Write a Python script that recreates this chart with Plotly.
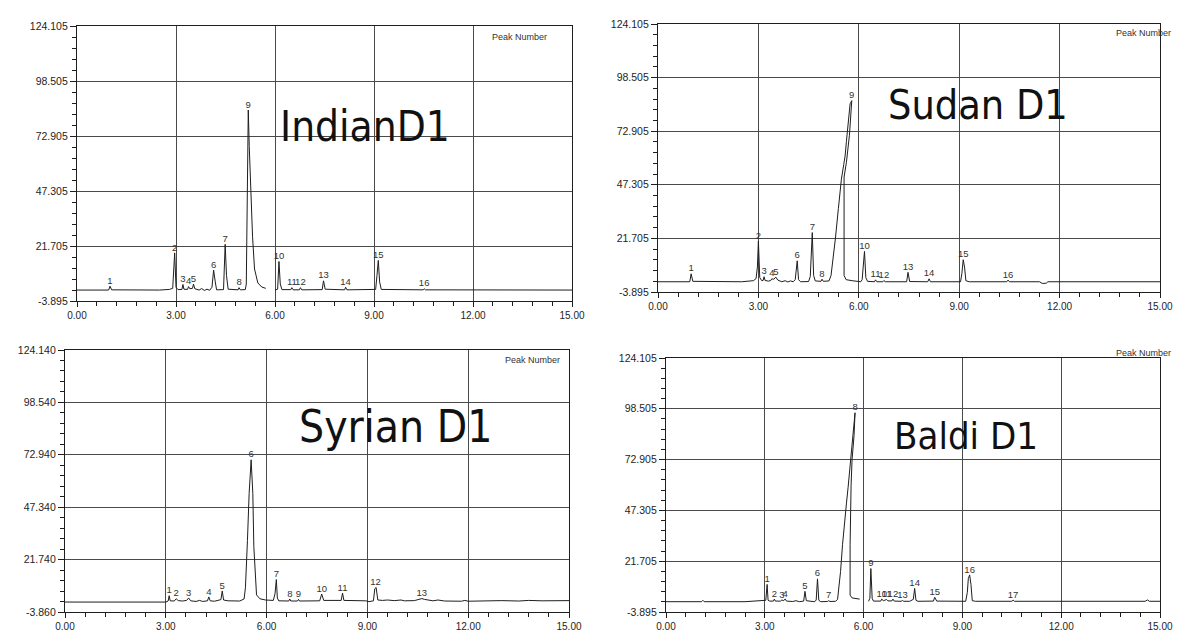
import plotly.graph_objects as go

# ---------------- data ----------------
x_ticks = [0, 3, 6, 9, 12, 15]
x_labels = ["0.00", "3.00", "6.00", "9.00", "12.00", "15.00"]

y_ticks_a = [-3.895, 21.705, 47.305, 72.905, 98.505, 124.105]
y_labels_a = ["-3.895", "21.705", "47.305", "72.905", "98.505", "124.105"]
y_ticks_b = [-3.860, 21.740, 47.340, 72.940, 98.540, 124.140]
y_labels_b = ["-3.860", "21.740", "47.340", "72.940", "98.540", "124.140"]

sample_names = ["IndianD1", "Sudan D1", "Syrian D1", "Baldi D1"]

# IndianD1 trace (retention time, min ; signal)
indian_time = [0.00, 0.96, 1.00, 1.05, 2.50, 2.80, 2.90, 2.96, 3.00, 3.06, 3.18, 3.21, 3.24, 3.35, 3.38,
               3.42, 3.50, 3.53, 3.57, 3.70, 3.78, 3.86, 3.94, 4.02, 4.09, 4.14, 4.19, 4.23, 4.44, 4.49,
               4.53, 4.58, 4.88, 4.91, 4.95, 5.10, 5.13, 5.15, 5.16, 5.18, 5.19, 5.22, 5.27, 5.32, 5.38,
               5.48, 5.60, 5.72, None, 6.00, 6.08, 6.12, 6.16, 6.21, 6.48, 6.51, 6.55, 6.74, 6.77, 6.81,
               7.43, 7.47, 7.52, 8.11, 8.14, 8.18, 9.05, 9.09, 9.13, 9.17, 9.22, 10.49, 10.52, 10.56, 15.00]
indian_signal = [1.2, 1.2, 3.0, 1.3, 1.2, 1.5, 2.0, 18.5, 2.5, 1.4, 1.5, 3.8, 1.6, 1.5, 2.8,
                 1.8, 2.0, 4.0, 1.8, 1.2, 1.9, 1.0, 1.6, 1.1, 2.5, 10.5, 5.0, 1.3, 1.4, 22.5,
                 8.0, 1.6, 1.3, 2.3, 1.3, 1.4, 4.0, 40.0, 62.0, 70.0, 85.0, 68.0, 45.0, 26.0, 11.0,
                 4.5, 2.6, 2.0, None, 1.2, 1.6, 14.5, 4.0, 1.4, 1.4, 2.3, 1.3, 1.3, 2.3, 1.3,
                 1.4, 5.5, 1.6, 1.3, 2.5, 1.3, 1.5, 8.0, 15.0, 5.0, 1.5, 1.3, 1.8, 1.3, 1.2]
indian_peak_no = ["1", "2", "3", "4", "5", "6", "7", "8", "9", "10", "11", "12", "13", "14", "15", "16"]
indian_peak_rt = [1.00, 2.96, 3.21, 3.38, 3.53, 4.14, 4.49, 4.91, 5.19, 6.12, 6.51, 6.77, 7.47, 8.14, 9.13, 10.52]
indian_peak_ht = [3.0, 18.5, 3.8, 2.8, 4.0, 10.5, 22.5, 2.3, 85.0, 14.5, 2.3, 2.3, 5.5, 2.5, 15.0, 1.8]

# Sudan D1 trace
sudan_time = [0.00, 0.95, 0.99, 1.04, 2.50, 2.85, 2.93, 2.97, 3.00, 3.04, 3.10, 3.14, 3.17, 3.20, 3.30,
              3.37, 3.40, 3.46, 3.52, 3.58, 3.70, 3.80, 3.88, 3.96, 4.04, 4.10, 4.16, 4.20, 4.26, 4.50,
              4.55, 4.58, 4.61, 4.65, 4.70, 4.87, 4.90, 4.94, 5.08, 5.11, 5.17, 5.26, 5.30, 5.39, 5.48,
              5.55, 5.59, 5.63, 5.70, 5.74, 5.79, 5.72, 5.63, 5.56, 5.56, 5.62, 5.80, 6.06, 6.10, 6.13,
              6.17, 6.21, 6.26, 6.47, 6.50, 6.54, 6.72, 6.75, 6.79, 7.43, 7.47, 7.52, 8.06, 8.10, 8.14,
              9.04, 9.08, 9.12, 9.16, 9.20, 9.30, 10.42, 10.46, 10.50, 11.40, 11.48, 11.60, 11.65, 15.00]
sudan_signal = [1.0, 1.0, 4.8, 1.2, 1.0, 1.5, 2.5, 8.0, 20.5, 3.0, 1.5, 1.6, 3.4, 1.6, 1.3,
                1.6, 2.4, 2.2, 3.2, 1.8, 1.0, 1.5, 0.9, 1.4, 1.0, 2.0, 11.0, 2.0, 1.0, 1.1,
                3.5, 12.0, 24.5, 4.0, 1.4, 1.2, 2.2, 1.2, 1.1, 1.4, 4.0, 15.0, 21.5, 36.0, 50.0,
                57.0, 61.0, 68.0, 79.0, 86.0, 87.5, 71.0, 58.0, 51.0, 4.0, 2.0, 1.5, 1.0, 2.0, 8.0,
                15.5, 3.0, 1.2, 1.0, 1.9, 1.0, 1.0, 1.6, 1.0, 1.0, 5.5, 1.1, 1.0, 2.4, 1.0,
                1.0, 5.0, 11.5, 8.0, 1.5, 1.0, 1.0, 1.8, 1.0, 1.0, 0.2, 0.3, 1.0, 1.0]
sudan_peak_no = ["1", "2", "3", "4", "5", "6", "7", "8", "9", "10", "11", "12", "13", "14", "15", "16"]
sudan_peak_rt = [0.99, 3.00, 3.17, 3.40, 3.52, 4.16, 4.61, 4.90, 5.79, 6.17, 6.50, 6.75, 7.47, 8.10, 9.12, 10.46]
sudan_peak_ht = [4.8, 20.5, 3.4, 2.4, 3.2, 11.0, 24.5, 2.2, 87.5, 15.5, 1.9, 1.6, 5.5, 2.4, 11.5, 1.8]

# Syrian D1 trace
syrian_time = [0.00, 3.00, 3.07, 3.10, 3.13, 3.25, 3.31, 3.37, 3.50, 3.62, 3.68, 3.74, 3.90, 4.00, 4.10,
               4.24, 4.28, 4.32, 4.45, 4.55, 4.64, 4.68, 4.72, 4.85, 5.00, 5.20, 5.33, 5.37, 5.43, 5.48,
               5.54, 5.59, 5.62, 5.66, 5.70, 5.80, 5.97, 6.20, 6.25, 6.29, 6.32, 6.36, 6.66, 6.69, 6.72,
               6.92, 6.95, 6.98, 7.58, 7.64, 7.70, 8.22, 8.26, 8.30, 8.95, 9.05, 9.18, 9.22, 9.26, 9.31,
               9.45, 9.60, 9.80, 10.00, 10.10, 10.40, 10.55, 10.62, 10.70, 10.85, 10.95, 11.10, 11.30, 11.80, 11.90,
               12.00, 12.40, 12.70, 13.00, 13.50, 13.80, 14.20, 14.60, 15.00]
syrian_signal = [1.0, 1.0, 1.5, 4.1, 1.6, 1.5, 2.6, 1.7, 1.5, 1.8, 3.0, 1.6, 1.3, 1.8, 1.3,
                 1.6, 3.5, 1.6, 1.4, 2.0, 2.2, 6.4, 2.0, 1.6, 1.4, 1.5, 2.5, 8.0, 31.0, 54.0,
                 70.5, 54.0, 28.0, 12.0, 4.5, 2.6, 2.0, 1.8, 5.0, 12.0, 3.0, 1.6, 1.5, 2.5, 1.5,
                 1.5, 2.3, 1.5, 1.6, 4.9, 1.8, 1.8, 5.4, 1.8, 1.6, 1.2, 1.6, 7.5, 8.1, 2.0,
                 1.8, 2.0, 1.7, 2.0, 1.6, 1.7, 2.2, 2.7, 2.3, 2.0, 1.6, 2.0, 1.5, 1.4, 1.8,
                 1.4, 1.6, 1.4, 1.7, 1.5, 1.8, 1.6, 1.8, 1.7]
syrian_peak_no = ["1", "2", "3", "4", "5", "6", "7", "8", "9", "10", "11", "12", "13"]
syrian_peak_rt = [3.10, 3.31, 3.68, 4.28, 4.68, 5.54, 6.29, 6.69, 6.95, 7.64, 8.26, 9.24, 10.62]
syrian_peak_ht = [4.1, 2.6, 3.0, 3.5, 6.4, 70.5, 12.0, 2.5, 2.3, 4.9, 5.4, 8.1, 2.7]

# Baldi D1 trace
baldi_time = [0.00, 1.08, 1.12, 1.16, 2.40, 2.70, 2.95, 3.03, 3.07, 3.10, 3.15, 3.26, 3.29, 3.32, 3.48,
              3.52, 3.56, 3.62, 3.66, 3.85, 3.95, 4.05, 4.18, 4.22, 4.26, 4.50, 4.56, 4.60, 4.64, 4.70,
              4.90, 4.94, 4.98, 5.15, 5.21, 5.30, 5.36, 5.42, 5.48, 5.53, 5.59, 5.65, 5.71, 5.74, 5.71,
              5.65, 5.62, 5.59, 5.59, 5.65, 5.88, None, 6.15, 6.19, 6.22, 6.26, 6.30, 6.52, 6.55, 6.60,
              6.70, 6.74, 6.86, 6.89, 6.93, 7.14, 7.18, 7.22, 7.40, 7.51, 7.55, 7.59, 7.65, 8.12, 8.16,
              8.22, 9.10, 9.15, 9.18, 9.22, 9.26, 9.30, 9.40, 10.50, 10.54, 10.58, 14.55, 14.62, 14.68, 15.00]
baldi_signal = [1.3, 1.3, 2.0, 1.3, 1.3, 1.5, 1.8, 2.0, 10.0, 2.0, 1.6, 1.6, 2.6, 1.6, 1.6,
                2.2, 1.8, 2.6, 1.6, 1.4, 1.8, 1.3, 1.6, 6.5, 1.8, 1.3, 2.0, 12.8, 2.0, 1.3,
                1.4, 1.8, 1.4, 1.5, 2.5, 16.5, 30.0, 39.0, 51.0, 59.0, 71.0, 83.0, 95.0, 96.5, 85.0,
                73.0, 60.0, 30.0, 4.6, 3.2, 2.6, None, 1.5, 3.0, 18.0, 3.0, 1.6, 1.6, 2.6, 1.8,
                2.4, 1.7, 1.7, 2.6, 1.6, 1.5, 1.9, 1.5, 1.5, 2.5, 8.0, 2.0, 1.5, 1.6, 3.5,
                1.6, 1.5, 6.0, 13.0, 14.8, 10.0, 1.8, 1.5, 1.5, 2.1, 1.5, 1.5, 2.2, 1.5, 1.5]
baldi_peak_no = ["1", "2", "3", "4", "5", "6", "7", "8", "9", "10", "11", "12", "13", "14", "15", "16", "17"]
baldi_peak_rt = [3.07, 3.29, 3.52, 3.62, 4.22, 4.60, 4.94, 5.74, 6.22, 6.55, 6.70, 6.89, 7.18, 7.55, 8.16, 9.22, 10.54]
baldi_peak_ht = [10.0, 2.6, 2.2, 2.6, 6.5, 12.8, 1.8, 96.5, 18.0, 2.6, 2.4, 2.6, 1.9, 8.0, 3.5, 14.8, 2.1]

# ---------------- figure ----------------
W, H = 1182, 631


def px_dom_x(a, b):
    return [a / W, b / W]


def px_dom_y(top, bottom):
    return [1 - bottom / H, 1 - top / H]


panels = [
    dict(t=indian_time, v=indian_signal, no=indian_peak_no, rt=indian_peak_rt, ht=indian_peak_ht,
         yt=y_ticks_a, yl=y_labels_a, dx=px_dom_x(69, 564), dy=px_dom_y(18, 293),
         title=sample_names[0], tpos=(8.73, 77.5), tsize=42, pn_x=0.954, pn_y=0.96),
    dict(t=sudan_time, v=sudan_signal, no=sudan_peak_no, rt=sudan_peak_rt, ht=sudan_peak_ht,
         yt=y_ticks_a, yl=y_labels_a, dx=px_dom_x(650, 1152), dy=px_dom_y(16, 284),
         title=sample_names[1], tpos=(9.55, 85.5), tsize=41, pn_x=1.025, pn_y=0.965),
    dict(t=syrian_time, v=syrian_signal, no=syrian_peak_no, rt=syrian_peak_rt, ht=syrian_peak_ht,
         yt=y_ticks_b, yl=y_labels_b, dx=px_dom_x(57, 561), dy=px_dom_y(342, 604),
         title=sample_names[2], tpos=(9.85, 87.0), tsize=44, pn_x=0.986, pn_y=0.962),
    dict(t=baldi_time, v=baldi_signal, no=baldi_peak_no, rt=baldi_peak_rt, ht=baldi_peak_ht,
         yt=y_ticks_a, yl=y_labels_a, dx=px_dom_x(658, 1152), dy=px_dom_y(350, 604),
         title=sample_names[3], tpos=(9.1, 85.0), tsize=38, pn_x=1.026, pn_y=1.02),
]

FONT = "Liberation Sans, Arial, sans-serif"
TITLE_FONT = "Liberation Sans Narrow, Arial Narrow, DejaVu Sans Condensed, Liberation Sans, sans-serif"
INK = "#1e1e1e"
GRID = "#4a4a4a"

fig = go.Figure()
layout_axes = {}
annotations = []

for i, p in enumerate(panels):
    n = "" if i == 0 else str(i + 1)
    xa, ya = "x" + n, "y" + n
    fig.add_trace(go.Scatter(x=p["t"], y=p["v"], mode="lines", xaxis=xa, yaxis=ya,
                             line=dict(color=INK, width=1), connectgaps=False,
                             hoverinfo="skip", showlegend=False))
    fig.add_trace(go.Scatter(x=p["rt"], y=p["ht"], mode="text", text=p["no"],
                             textposition="top center", xaxis=xa, yaxis=ya,
                             textfont=dict(family=FONT, size=9.5, color="#333333"),
                             hoverinfo="skip", showlegend=False))
    layout_axes["xaxis" + n] = dict(
        domain=p["dx"], anchor=ya, range=[0, 15], tickmode="array", automargin=False,
        tickvals=x_ticks, ticktext=x_labels, ticks="outside", ticklen=5, tickwidth=1,
        tickcolor=INK, showgrid=True, gridcolor=GRID, gridwidth=1, zeroline=False,
        showline=True, linecolor=INK, linewidth=1.2, mirror=True,
        tickfont=dict(family=FONT, size=10, color=INK),
        minor=dict(tick0=0, dtick=0.6, ticks="outside", ticklen=4, tickcolor=INK, showgrid=False),
    )
    layout_axes["yaxis" + n] = dict(
        domain=p["dy"], anchor=xa, range=[p["yt"][0], p["yt"][-1]], tickmode="array", automargin=False,
        tickvals=p["yt"], ticktext=p["yl"], ticks="outside", ticklen=6, tickwidth=1,
        tickcolor=INK, showgrid=True, gridcolor=GRID, gridwidth=1, zeroline=False,
        showline=True, linecolor=INK, linewidth=1.2, mirror=True,
        tickfont=dict(family=FONT, size=10.5, color=INK),
        minor=dict(tick0=p["yt"][0], dtick=5.12, ticks="outside", ticklen=4, tickcolor=INK, showgrid=False),
    )
    annotations.append(dict(x=p["tpos"][0], y=p["tpos"][1], xref=xa, yref=ya, text=p["title"],
                            showarrow=False, font=dict(family=TITLE_FONT, size=p["tsize"], color="#111111"),
                            xanchor="center", yanchor="middle"))
    annotations.append(dict(x=p["pn_x"], y=p["pn_y"], xref=xa + " domain", yref=ya + " domain",
                            text="Peak Number", showarrow=False,
                            font=dict(family=FONT, size=9, color="#333333"),
                            xanchor="right", yanchor="middle"))

fig.update_layout(
    width=W, height=H, margin=dict(l=0, r=0, t=0, b=0),
    paper_bgcolor="white", plot_bgcolor="white",
    annotations=annotations, showlegend=False, **layout_axes,
)

fig.write_html("out.html")
